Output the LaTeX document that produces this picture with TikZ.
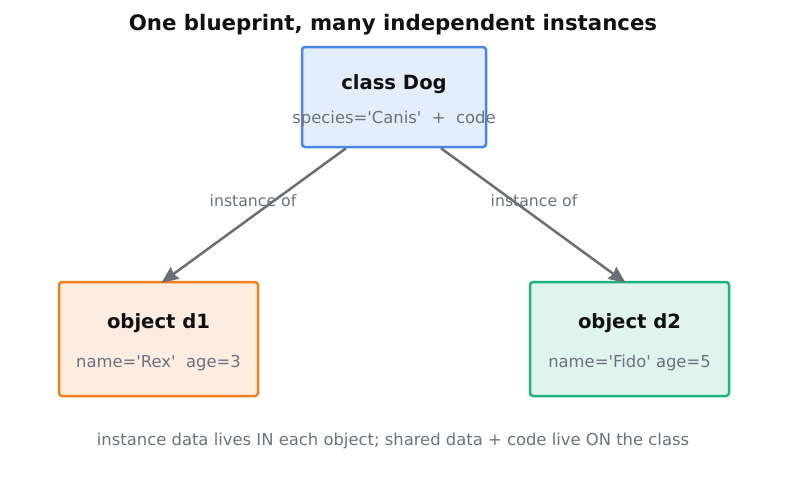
\documentclass[tikz,border=0pt]{standalone}
\usepackage{fontspec}
\setmainfont{DejaVu Sans}[Ligatures=TeXOff]
\usetikzlibrary{arrows.meta,calc}
\definecolor{inkdark}{HTML}{111111}
\definecolor{inkgray}{HTML}{6B7280}
\definecolor{arrowgray}{HTML}{6B6E75}
\definecolor{classline}{HTML}{4A86E8}
\definecolor{classfill}{HTML}{E3EDFB}
\definecolor{dOneline}{HTML}{F07F1F}
\definecolor{dOnefill}{HTML}{FDECE0}
\definecolor{dTwoline}{HTML}{1DB37E}
\definecolor{dTwofill}{HTML}{DFF4EC}
\tikzset{
  boxnode/.style={draw, rounded corners=3pt, line width=2.5pt, inner sep=0pt},
  headtext/.style={text=inkdark, font=\fontsize{19.6}{23}\selectfont\bfseries},
  bodytext/.style={text=inkgray, font=\fontsize{16.4}{19}\selectfont},
  linklabel/.style={text=inkgray, font=\fontsize{15.7}{18}\selectfont},
  instlink/.style={draw=arrowgray, line width=2.5pt, -{Stealth[length=17pt,width=15pt,inset=2pt,line width=0pt]}}
}
\begin{document}
\begin{tikzpicture}[x=1pt,y=-1pt]
  \useasboundingbox (0,0) rectangle (787,485);

  % Title on top
  \node (title) at (393,25) [text=inkdark, font=\fontsize{21.3}{25}\selectfont\bfseries] {One blueprint, many independent instances};

  % Drawing class box Dog
  \node (dog) at (394,97) [boxnode, draw=classline, fill=classfill, minimum width=184pt, minimum height=100pt] {};
  \node (dogHead) at (394,84) [headtext] {class Dog};
  \node (dogBody) at (394,119) [bodytext] {species='Canis'\ \ +\ \ code};

  % Drawing object box d1
  \node (dOne) at (158.5,339) [boxnode, draw=dOneline, fill=dOnefill, minimum width=199pt, minimum height=114pt] {};
  \node (dOneHead) at (158.5,323) [headtext] {object d1};
  \node (dOneBody) at (158.5,363) [bodytext] {name='Rex'\ \ age=3};

  % Drawing object box d2
  \node (dTwo) at (629.5,339) [boxnode, draw=dTwoline, fill=dTwofill, minimum width=199pt, minimum height=114pt] {};
  \node (dTwoHead) at (629.5,323) [headtext] {object d2};
  \node (dTwoBody) at (629.5,363) [bodytext] {name='Fido' age=5};

  % Drawing arrows instance of
  \draw [instlink] ([xshift=-48pt]dog.south) -- ([xshift=3pt,yshift=-2pt]dOne.north);
  \draw [instlink] ([xshift=47pt]dog.south) -- ([xshift=-4pt,yshift=-2pt]dTwo.north);
  \node (linkOne) at (253,201) [linklabel] {instance of};
  \node (linkTwo) at (534,201) [linklabel] {instance of};

  % Caption below
  \node (caption) at (393,441) [bodytext] {instance data lives IN each object; shared data + code live ON the class};
\end{tikzpicture}
\end{document}
